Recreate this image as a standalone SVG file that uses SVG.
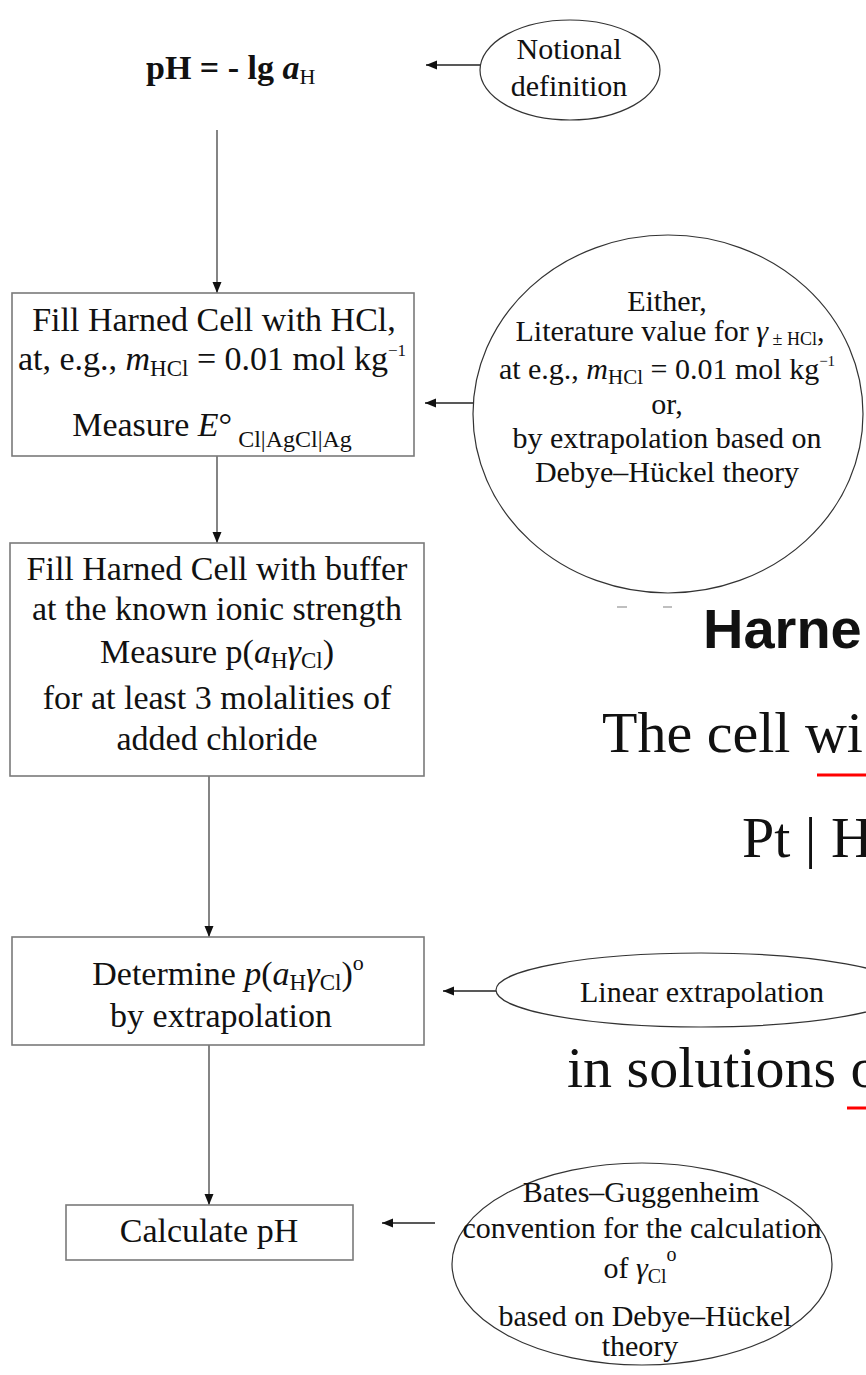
<svg xmlns="http://www.w3.org/2000/svg" width="866" height="1375" viewBox="0 0 866 1375">
<defs>
<style>
.t{font-family:"Liberation Serif","Times New Roman",serif;fill:#111;}
.bx{font-size:34px;}
.cx{font-size:30px;}
.box{fill:#fff;stroke:#7a7a7a;stroke-width:1.6;}
.ell{fill:#fff;stroke:#333;stroke-width:1.2;}
.vline{stroke:#666;stroke-width:1.6;fill:none;}
.hline{stroke:#222;stroke-width:1.5;fill:none;}
.i{font-style:italic;}
.big{font-family:"Liberation Serif","Times New Roman",serif;font-size:58px;fill:#111;}
</style>
<marker id="ah" markerWidth="12" markerHeight="10" refX="11" refY="5" orient="auto" markerUnits="userSpaceOnUse">
<path d="M0,0.5 L11,5 L0,9.5 z" fill="#111"/>
</marker>
</defs>
<rect width="866" height="1375" fill="#fff"/>

<!-- background slide text -->
<g id="background">
<text x="703" y="648" font-family="Liberation Sans, Arial, sans-serif" font-weight="bold" font-size="56" fill="#111">Harne</text>
<text class="big" x="602" y="752">The cell wi</text>
<text class="big" x="742" y="857">Pt | H</text>
<text class="big" x="567" y="1087">in solutions o</text>
<rect x="817" y="773.5" width="49" height="3" fill="#f00"/>
<rect x="847" y="1106.5" width="19" height="3" fill="#f00"/>
<path d="M617,607 L627,607 M663,607 L672,607" stroke="#aaa" stroke-width="1.5"/>
</g>

<g id="connectors">
<line class="vline" x1="217" y1="130" x2="217" y2="293" marker-end="url(#ah)"/>
<line class="vline" x1="217" y1="456" x2="217" y2="543" marker-end="url(#ah)"/>
<line class="vline" x1="209" y1="776" x2="209" y2="937" marker-end="url(#ah)"/>
<line class="vline" x1="209" y1="1045" x2="209" y2="1205" marker-end="url(#ah)"/>
<line class="hline" x1="480" y1="65" x2="426" y2="65" marker-end="url(#ah)"/>
<line class="hline" x1="480" y1="403" x2="425" y2="403" marker-end="url(#ah)"/>
<line class="hline" x1="496" y1="991" x2="443" y2="991" marker-end="url(#ah)"/>
<line class="hline" x1="435" y1="1223" x2="382" y2="1223" marker-end="url(#ah)"/>
</g>

<g id="title">
<text class="t" x="146" y="79" font-size="34" font-weight="bold">pH = - lg <tspan class="i">a</tspan><tspan font-size="22" font-weight="normal" dy="5">H</tspan></text>
</g>

<g id="notional">
<ellipse class="ell" cx="570" cy="70" rx="90" ry="50"/>
<text class="t cx" x="569" y="59" text-anchor="middle">Notional</text>
<text class="t cx" x="569" y="96" text-anchor="middle">definition</text>
</g>

<g id="box1">
<rect class="box" x="12" y="293" width="402" height="163"/>
<text class="t bx" x="214" y="331" text-anchor="middle">Fill Harned Cell with HCl,</text>
<text class="t bx" x="212" y="370" text-anchor="middle">at, e.g., <tspan class="i">m</tspan><tspan font-size="23" dy="6">HCl</tspan><tspan dy="-6"> = 0.01 mol kg</tspan><tspan font-size="17" dy="-14">−1</tspan></text>
<text class="t bx" x="212" y="436" text-anchor="middle">Measure <tspan class="i">E</tspan>°<tspan font-size="24" dy="11"> Cl|AgCl|Ag</tspan></text>
</g>

<g id="either">
<ellipse class="ell" cx="668" cy="414" rx="195" ry="179"/>
<text class="t cx" x="667" y="311" text-anchor="middle">Either,</text>
<text class="t cx" x="670" y="341" text-anchor="middle">Literature value for <tspan class="i">γ</tspan><tspan font-size="18" dy="4"> ± HCl</tspan><tspan dy="-4">,</tspan></text>
<text class="t cx" x="667" y="379" text-anchor="middle">at e.g., <tspan class="i">m</tspan><tspan font-size="21" dy="5">HCl</tspan><tspan dy="-5"> = 0.01 mol kg</tspan><tspan font-size="15" dy="-13">−1</tspan></text>
<text class="t cx" x="667" y="414" text-anchor="middle">or,</text>
<text class="t cx" x="667" y="448" text-anchor="middle">by extrapolation based on</text>
<text class="t cx" x="667" y="482" text-anchor="middle">Debye–Hückel theory</text>
</g>

<g id="box2">
<rect class="box" x="10" y="543" width="414" height="233"/>
<text class="t bx" x="217" y="580" text-anchor="middle">Fill Harned Cell with buffer</text>
<text class="t bx" x="217" y="620" text-anchor="middle">at the known ionic strength</text>
<text class="t bx" x="217" y="663" text-anchor="middle">Measure p(<tspan class="i">a</tspan><tspan font-size="23" dy="5">H</tspan><tspan class="i" dy="-5">γ</tspan><tspan font-size="23" dy="5">Cl</tspan><tspan dy="-5">)</tspan></text>
<text class="t bx" x="217" y="709" text-anchor="middle">for at least 3 molalities of</text>
<text class="t bx" x="217" y="750" text-anchor="middle">added chloride</text>
</g>

<g id="box3">
<rect class="box" x="12" y="937" width="412" height="108"/>
<text class="t bx" x="228" y="985" text-anchor="middle">Determine <tspan class="i">p</tspan>(<tspan class="i">a</tspan><tspan font-size="23" dy="5">H</tspan><tspan class="i" dy="-5">γ</tspan><tspan font-size="23" dy="5">Cl</tspan><tspan dy="-5">)</tspan><tspan font-size="22" dy="-15">o</tspan></text>
<text class="t bx" x="221" y="1027" text-anchor="middle">by extrapolation</text>
</g>

<g id="linear">
<ellipse class="ell" cx="701" cy="990" rx="205" ry="37"/>
<text class="t cx" x="702" y="1002" text-anchor="middle">Linear extrapolation</text>
</g>

<g id="box4">
<rect class="box" x="66" y="1205" width="287" height="55"/>
<text class="t bx" x="209" y="1242" text-anchor="middle">Calculate pH</text>
</g>

<g id="bates">
<ellipse class="ell" cx="642" cy="1264" rx="190" ry="101"/>
<text class="t cx" x="641" y="1202" text-anchor="middle">Bates–Guggenheim</text>
<text class="t cx" x="642" y="1238" text-anchor="middle">convention for the calculation</text>
<text class="t cx" x="640" y="1278" text-anchor="middle">of <tspan class="i">γ</tspan><tspan font-size="20" dy="5">Cl</tspan><tspan font-size="20" dy="-22">o</tspan></text>
<text class="t cx" x="645" y="1326" text-anchor="middle">based on Debye–Hückel</text>
<text class="t cx" x="640" y="1356" text-anchor="middle">theory</text>
</g>
</svg>
